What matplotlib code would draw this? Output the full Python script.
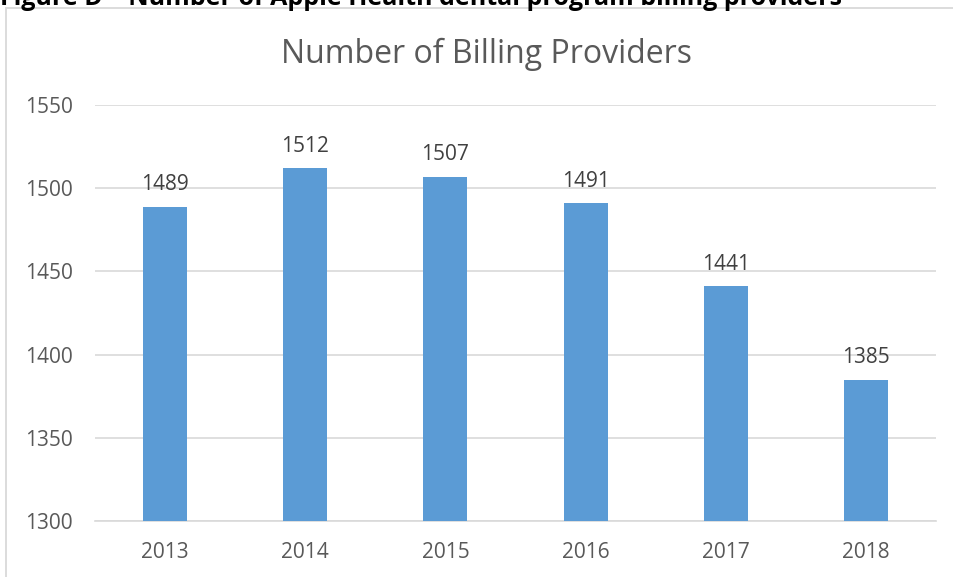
import matplotlib.pyplot as plt
from matplotlib.patches import Rectangle

years = ['2013', '2014', '2015', '2016', '2017', '2018']
providers = [1489, 1512, 1507, 1491, 1441, 1385]
y_ticks = [1300, 1350, 1400, 1450, 1500, 1550]

plt.rcParams['font.family'] = ['Open Sans', 'DejaVu Sans']

W, H = 954, 577
fig = plt.figure(figsize=(W / 100, H / 100), dpi=100)

# chart box border (cut off on right and bottom)
fig.patches.append(Rectangle((6 / W, -0.1), 1.2, 1 - 8 / H + 0.1,
                             transform=fig.transFigure, fill=False,
                             edgecolor='#d9d9d9', linewidth=1.3))

# clipped heading at the very top
fig.text(0, 1 - 5 / H, 'Figure D \u2013 Number of Apple Health dental program billing providers',
         fontsize=18, fontweight='bold', color='#000000', va='baseline', ha='left')

ax = fig.add_axes([95 / W, 1 - 521 / H, (936 - 95) / W, (521 - 105) / H])
x = range(len(years))
bars = ax.bar(x, providers, width=0.315, color='#5b9bd5', zorder=3)
ax.set_ylim(1300, 1550)
ax.set_xlim(-0.5, len(years) - 0.5)
ax.set_yticks(y_ticks)
ax.set_xticks(list(x))
ax.set_xticklabels(years)
ax.tick_params(length=0, labelsize=15, colors='#595959')
ax.tick_params(axis='y', pad=16)
ax.tick_params(axis='x', pad=15)
ax.grid(axis='y', color='#d9d9d9', linewidth=1.2, zorder=0)
for s in ['top', 'right', 'left']:
    ax.spines[s].set_visible(False)
ax.spines['bottom'].set_color('#d9d9d9')
ax.spines['bottom'].set_linewidth(1.2)

for i, v in enumerate(providers):
    ax.annotate(str(v), (i, v), xytext=(0, 12), textcoords='offset points',
                ha='center', va='baseline', fontsize=15, color='#404040')

fig.text(487 / W, 1 - 63 / H, 'Number of Billing Providers', fontsize=23,
         color='#595959', ha='center', va='baseline')

fig.savefig('out.png', dpi=100)
